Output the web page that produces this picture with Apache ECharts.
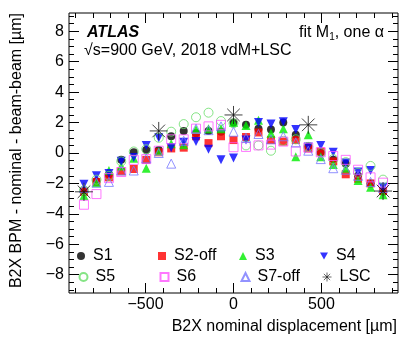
<!DOCTYPE html>
<html>
<head>
<meta charset="utf-8">
<script src="https://cdn.jsdelivr.net/npm/echarts@6/dist/echarts.min.js"></script>
<style>
  html, body { margin: 0; padding: 0; background: #fff; }
  #main { width: 414px; height: 353px; }
</style>
</head>
<body>
<div id="main"></div>
<script>
// scan positions (B2X nominal displacement, um)
const xValues = [-850, -779, -708, -638, -567, -496, -425, -354, -283, -213, -142, -71, 0,
  71, 142, 213, 283, 354, 425, 496, 567, 638, 708, 779, 850];
const xLsc = [-850, -425, 0, 425, 850];

// residuals per scan (um)
const s1 = [-2.5, -1.85, -1.4, -0.45, 0.05, 0.2, 0.2, 1.1, 1.45, 1.3, 1.45, 1.4, 2.0,
  1.85, 1.6, 1.55, 2.0, 1.2, 0.45, 0.05, -0.45, -0.7, -1.5, -2.0, -2.55];
const s2off = [-2.55, -1.9, -1.6, -1.2, -1.05, -0.45, 0.05, 0.3, 0.35, 1.1, 0.65, 1.1, 0.85,
  1.05, 1.35, 0.85, 0.75, 0.85, 0.3, 0.1, -0.55, -1.4, -1.7, -2.0, -2.5];
const s3 = [-2.8, -1.95, -1.15, -0.85, -0.35, -1.0, 0.1, 0.6, 0.55, 1.55, 1.6, 1.6, 2.0,
  1.8, 2.15, 1.3, 1.6, -0.25, 1.2, -0.25, -0.75, -1.0, -1.8, -2.25, -2.75];
const s4 = [-2.05, -1.5, -1.35, -0.55, -0.3, 0.5, 1.0, 0.35, 0.7, 0.75, 0.25, -0.45, -0.33,
  0.85, 2.0, 1.9, 2.05, 1.55, 0.4, 0.5, 0.05, -0.65, -1.25, -1.15, -2.25];
const s5 = [-2.45, -1.75, -1.5, -0.55, 0.1, 0.25, 1.0, 1.4, 1.9, 2.35, 2.65, 2.1, 1.95,
  0.5, 0.5, 0.15, 0.8, 0.9, 0.4, 0.0, -0.4, -0.6, -1.3, -0.85, -1.75];
const s6 = [-3.4, -2.7, -1.65, -1.25, -0.45, -0.4, 0.15, 0.9, 0.9, 1.6, 1.75, 1.85, 0.38,
  0.4, 0.5, 0.55, 0.75, 0.1, 0.35, 0.05, -0.2, -0.45, -1.1, -1.6, -1.95];
const s7off = [-2.3, -1.95, -1.9, -1.15, -1.15, -0.35, 0.0, -0.7, 0.8, 1.6, 1.5, 1.75, 1.4,
  1.0, 1.25, 0.9, 1.1, 0.7, 0.15, -0.4, -1.0, -1.1, -1.5, -1.9, -2.3];
const lsc = [-2.55, 1.45, 2.5, 1.85, -2.5];

// axis ticks
const xMajor = [-500, 0, 500];
const xMinor = [-900, -800, -700, -600, -400, -300, -200, -100, 100, 200, 300, 400, 600, 700, 800, 900];
const yMajor = [-8, -6, -4, -2, 0, 2, 4, 6, 8];
const yMinor = [-9, -8.5, -7.5, -7, -6.5, -5.5, -5, -4.5, -3.5, -3, -2.5, -1.5, -1, -0.5,
  0.5, 1, 1.5, 2.5, 3, 3.5, 4.5, 5, 5.5, 6.5, 7, 7.5, 8.5, 9];

const FONT = 'Liberation Sans';
const ASTERISK = 'path://M0,5L10,5M5,0L5,10M1.5,1.5L8.5,8.5M8.5,1.5L1.5,8.5';
const TRI_DOWN = 'path://M0,0L10,0L5,9Z';

const minus = v => String(v).replace('-', '\u2212');

function pair(list) {
  return list.map((v, i) => [xValues[i], v]);
}

function axis(pos, ticks, len, labels) {
  return {
    type: 'value',
    position: pos,
    axisLine: { show: false, onZero: false },
    splitLine: { show: false },
    axisTick: { show: true, inside: true, length: len, customValues: ticks,
      lineStyle: { color: '#000', width: 1 } },
    axisLabel: labels ? { customValues: ticks, formatter: minus, color: '#000',
      fontFamily: FONT, fontSize: 16, margin: pos === 'bottom' ? 4 : 5 } : { show: false }
  };
}

const xr = { min: -935, max: 935 };
const yr = { min: -9.2, max: 9.2 };

const chart = echarts.init(document.getElementById('main'));

const series = [
  { name: 'S1', data: pair(s1), symbol: 'circle', symbolSize: 8,
    itemStyle: { color: '#000' } },
  { name: 'S2-off', data: pair(s2off), symbol: 'rect', symbolSize: 8,
    itemStyle: { color: '#ff0000' } },
  { name: 'S3', data: pair(s3), symbol: 'triangle', symbolSize: 9,
    itemStyle: { color: '#00ee00' } },
  { name: 'S4', data: pair(s4), symbol: TRI_DOWN, symbolSize: 9,
    itemStyle: { color: '#0000ff' } },
  { name: 'S5', data: pair(s5), symbol: 'circle', symbolSize: 9,
    itemStyle: { color: 'none', borderColor: '#66dd66', borderWidth: 1 } },
  { name: 'S6', data: pair(s6), symbol: 'rect', symbolSize: 9,
    itemStyle: { color: 'none', borderColor: '#ff55ff', borderWidth: 1 } },
  { name: 'S7-off', data: pair(s7off), symbol: 'triangle', symbolSize: 9,
    itemStyle: { color: 'none', borderColor: '#7777ff', borderWidth: 1 } },
  { name: 'LSC', data: lsc.map((v, i) => [xLsc[i], v]), symbol: ASTERISK, symbolSize: 18,
    itemStyle: { color: 'none', borderColor: '#111', borderWidth: 1 } }
].map(s => Object.assign({ type: 'scatter', xAxisIndex: 0, yAxisIndex: 0 }, s));

// legend: one component per entry, 4 columns x 2 rows
const legendCols = [77, 158, 239, 320];
const legendRows = [248, 269];
const legends = series.map((s, i) => ({
  data: [s.name],
  left: legendCols[i % 4],
  top: legendRows[Math.floor(i / 4)],
  padding: 0,
  itemWidth: 8,
  itemHeight: 8,
  itemGap: 0,
  selectedMode: false,
  textStyle: { fontFamily: FONT, fontSize: 16, color: '#000', padding: [0, 0, 0, 3] }
}));
legends[7].itemWidth = 9;
legends[7].itemHeight = 9;
legends[7].itemStyle = { color: 'none', borderColor: '#111', borderWidth: 0.8 };

const option = {
  animation: false,
  backgroundColor: '#fff',
  grid: { left: 69, right: 16, top: 13, bottom: 60, show: true,
    borderColor: '#000', borderWidth: 1, backgroundColor: 'transparent' },
  xAxis: [
    Object.assign(axis('bottom', xMajor, 10, true), xr),
    Object.assign(axis('bottom', xMinor, 5, false), xr),
    Object.assign(axis('top', xMajor, 10, false), xr),
    Object.assign(axis('top', xMinor, 5, false), xr)
  ],
  yAxis: [
    Object.assign(axis('left', yMajor, 10, true), yr),
    Object.assign(axis('left', yMinor, 5, false), yr),
    Object.assign(axis('right', yMajor, 10, false), yr),
    Object.assign(axis('right', yMinor, 5, false), yr)
  ],
  legend: legends,
  graphic: [
    { type: 'text', left: 87, top: 25,
      style: { text: 'ATLAS', font: 'italic bold 16px ' + FONT, fill: '#000' } },
    { type: 'text', left: 84, top: 43,
      style: { text: '\u221As=900 GeV, 2018 vdM+LSC', font: '16px ' + FONT, fill: '#000' } },
    { type: 'text', right: 30, top: 25,
      style: { text: 'fit M{s|1}, one \u03b1', font: '16px ' + FONT, fill: '#000',
        rich: { s: { fontSize: 10, fontFamily: FONT, verticalAlign: 'bottom', padding: [8, 0, 0, 0] } } } },
    { type: 'text', x: 17, y: 13, rotation: Math.PI / 2,
      style: { text: 'B2X BPM - nominal - beam-beam [\u00b5m]', font: '16px ' + FONT, fill: '#000',
        align: 'right', verticalAlign: 'middle' } },
    { type: 'text', x: 397, y: 327,
      style: { text: 'B2X nominal displacement [\u00b5m]', font: '16px ' + FONT, fill: '#000',
        align: 'right', verticalAlign: 'middle' } }
  ],
  series: series
};

chart.setOption(option);
</script>
</body>
</html>
